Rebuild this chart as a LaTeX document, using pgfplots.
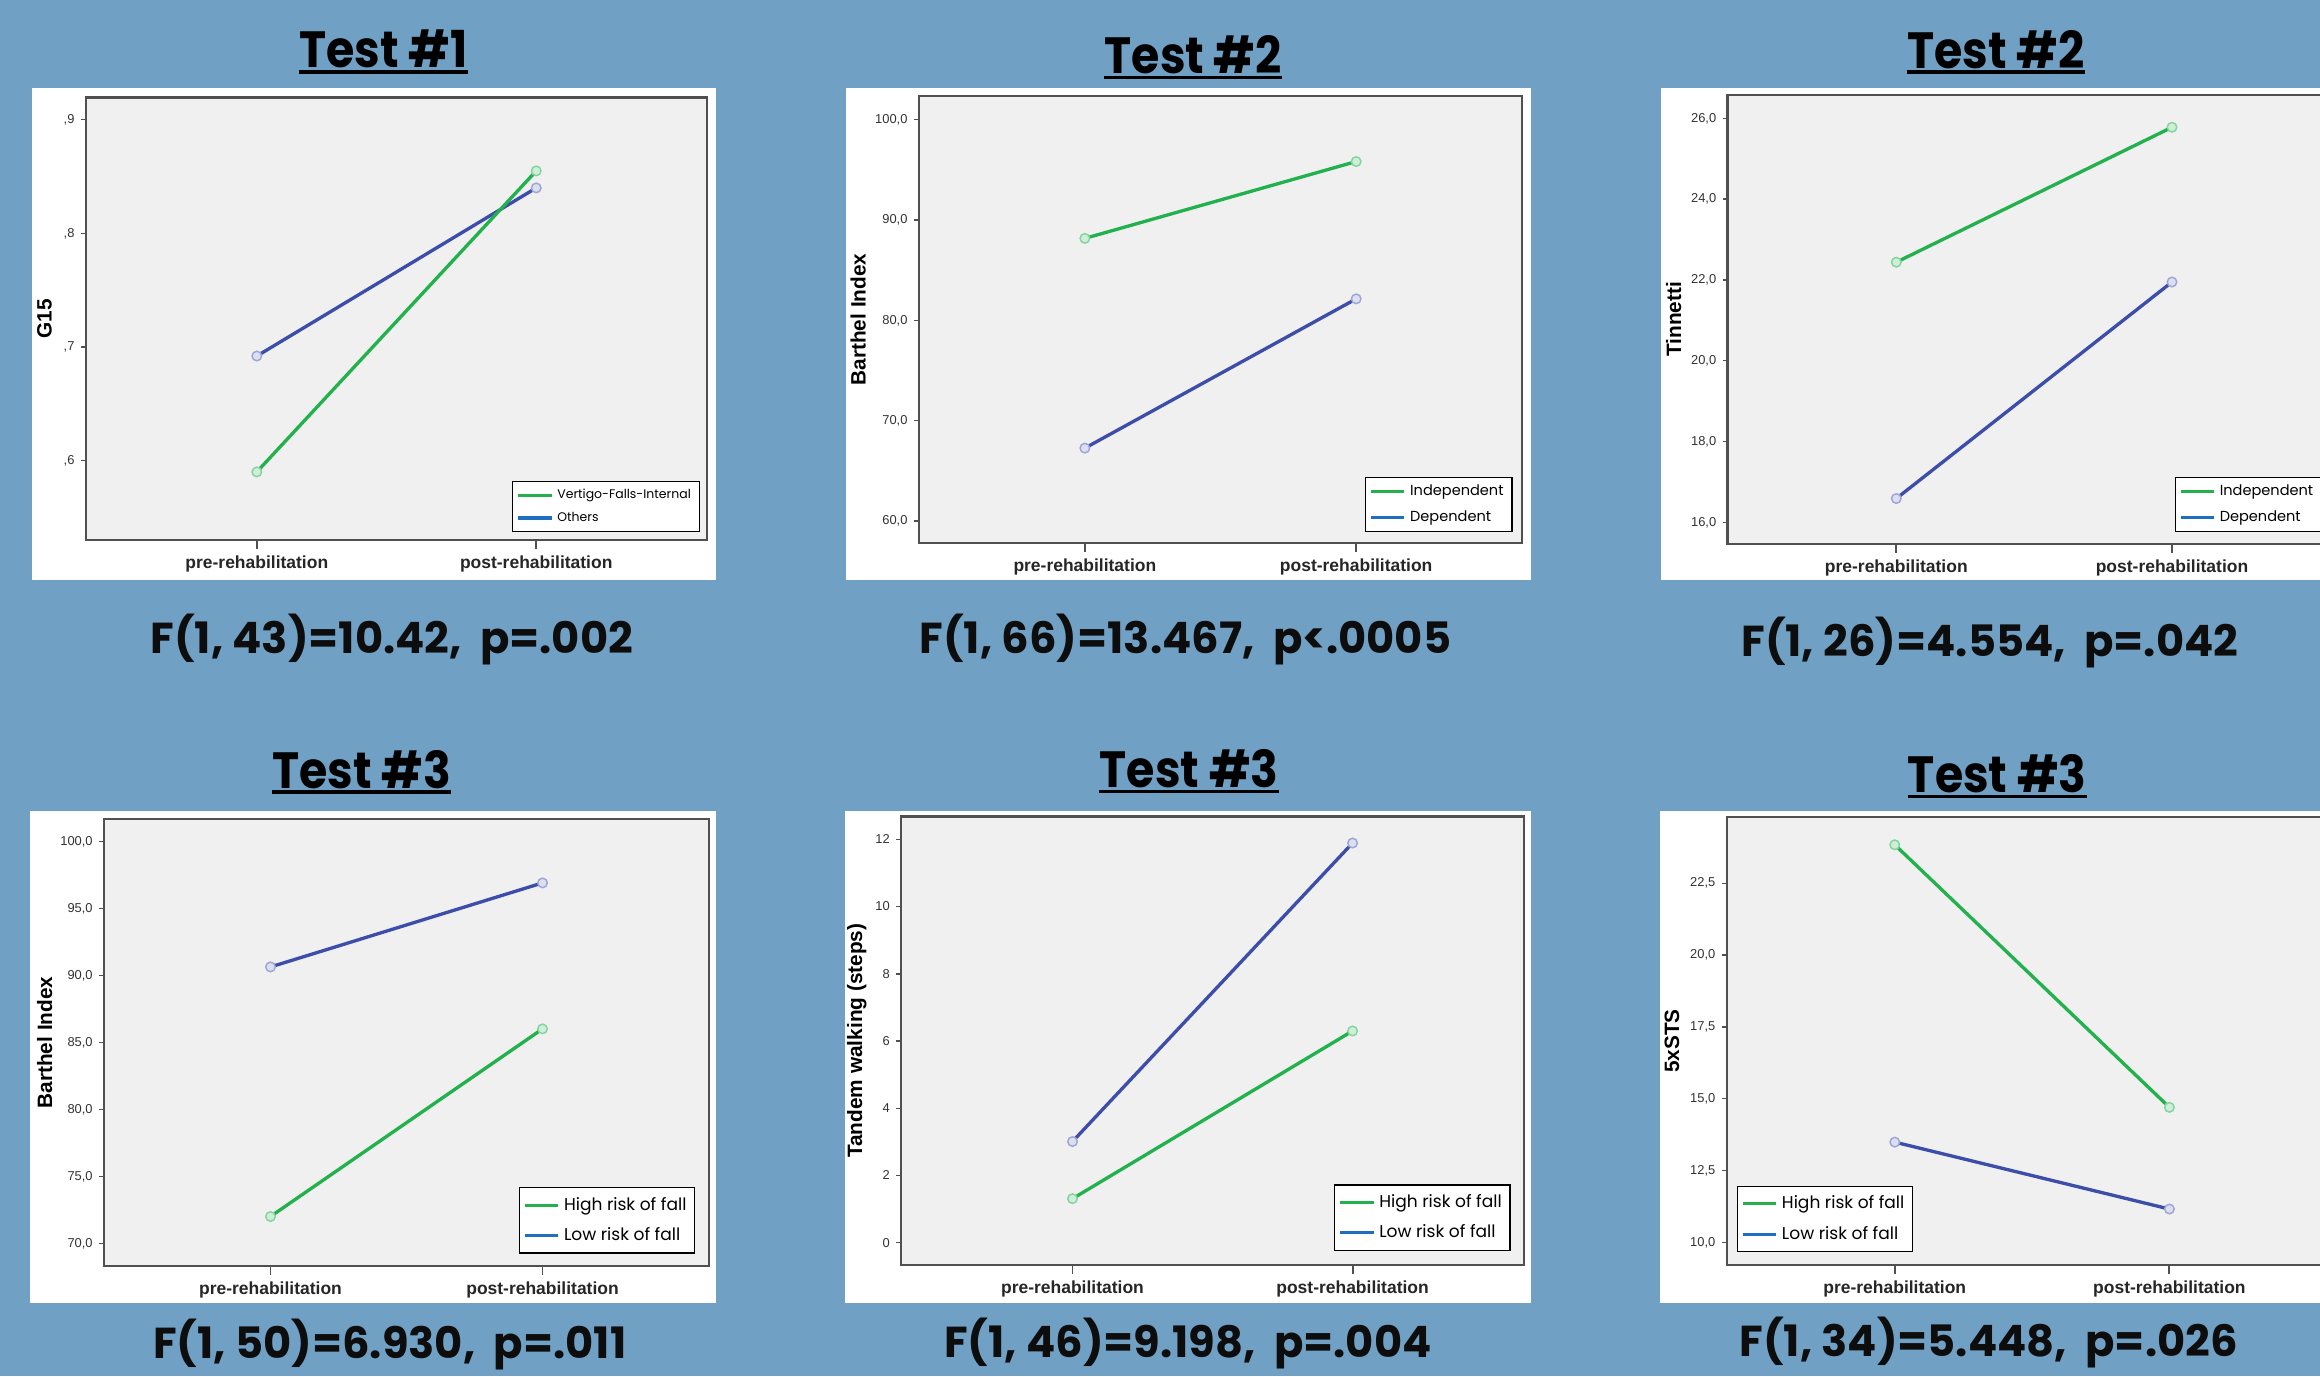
\documentclass[border=0pt]{standalone}
\usepackage{pgfplots}
\pgfplotsset{compat=1.18}
\usepackage{fontspec}
\setmainfont{Liberation Sans}
\newfontfamily\pop{Poppins}

\definecolor{bgblue}{RGB}{112,161,196}
\definecolor{plotbg}{RGB}{240,240,240}
\definecolor{framec}{RGB}{80,80,80}
\definecolor{gline}{RGB}{34,177,76}
\definecolor{bline}{RGB}{60,78,170}
\definecolor{legblue}{RGB}{31,111,192}
\definecolor{tickc}{RGB}{51,51,51}

\pgfplotsset{
  spss/.style={
    scale only axis, anchor=south west, clip=false,
    xmin=-0.612, xmax=1.612,
    xtick={0,1}, xticklabels={pre-rehabilitation,post-rehabilitation},
    axis background/.style={fill=plotbg},
    axis line style={draw=framec, line width=1.1pt},
    xtick pos=bottom, ytick pos=left, tick align=outside,
    xtick style={draw=framec, line width=0.9pt, /pgfplots/major tick length=1.5mm},
    ytick style={draw=framec, line width=0.7pt, /pgfplots/major tick length=0.8mm},
    yticklabel style={font=\fontsize{6.2}{7}\selectfont, text=tickc, inner sep=1pt},
    xticklabel style={font=\bfseries\fontsize{8.4}{9}\selectfont, text=black!85},
    ylabel style={font=\bfseries\fontsize{10}{11}\selectfont, anchor=center},
    legend style={draw=black, line width=0.6pt, fill=white, inner xsep=2pt, inner ysep=1.5pt},
    legend cell align=left,
    legend image code/.code={\draw[##1] (0mm,0mm) -- (5.6mm,0mm);},
  },
  grn/.style={draw=gline, line width=1.6pt, mark=*, mark size=2.3pt,
    mark options={draw=gline!55!white, fill=gline!22!white, line width=0.7pt}},
  blu/.style={draw=bline, line width=1.6pt, mark=*, mark size=2.3pt,
    mark options={draw=bline!50!white, fill=bline!18!white, line width=0.7pt}},
  legg/.style={draw=gline, line width=1.5pt},
  legb/.style={draw=legblue, line width=1.5pt},
  smallleg/.style={legend style={font=\pop\fontsize{6}{7.5}\selectfont, row sep=0.3mm}},
  midleg/.style={legend style={font=\pop\fontsize{7}{8.5}\selectfont, row sep=0.6mm}},
  bigleg/.style={legend style={font=\pop\fontsize{8.2}{10}\selectfont, row sep=1mm, inner ysep=2.5pt}},
}

\tikzset{
  ttl/.style={anchor=base, inner sep=0pt, xscale=0.9, font=\pop\bfseries\fontsize{24.5}{27}\selectfont},
  fst/.style={anchor=base, inner sep=0pt, text=black!95, font=\pop\bfseries\fontsize{20.8}{23}\selectfont},
}
\newcommand\ttl[3]{\node[ttl] (#1) at (#2) {#3};
  \draw[line width=0.6mm] ([yshift=-0.65mm]#1.base west) -- ([yshift=-0.65mm]#1.base east);}

\begin{document}
\begin{tikzpicture}
\useasboundingbox (0,0) rectangle (392mm,-232.5mm);
\clip (0,0) rectangle (392mm,-232.5mm);
\fill[bgblue] (0,0) rectangle (392mm,-232.5mm);

% white panels
\fill[white] (5.375mm,-14.9mm) rectangle (120.9mm,-98mm);
\fill[white] (142.9mm,-14.9mm) rectangle (258.7mm,-98mm);
\fill[white] (280.65mm,-14.9mm) rectangle (400mm,-98mm);
\fill[white] (5.05mm,-137mm) rectangle (121.05mm,-220.125mm);
\fill[white] (142.75mm,-137mm) rectangle (258.75mm,-220.125mm);
\fill[white] (280.5mm,-137mm) rectangle (400mm,-220.125mm);

% titles
\ttl{t1}{64.8mm,-11.475mm}{Test \#1}
\ttl{t2}{201.6mm,-12.45mm}{Test \#2}
\ttl{t3}{337.25mm,-11.55mm}{Test \#2}
\ttl{t4}{61.1mm,-133.2mm}{Test \#3}
\ttl{t5}{200.9mm,-133.05mm}{Test \#3}
\ttl{t6}{337.45mm,-133.9mm}{Test \#3}

% statistics
\node[fst] at (66.2mm,-110.5mm) {F(1, 43)=10.42,\ \ p=.002};
\node[fst] at (200.3mm,-110.5mm) {F(1, 66)=13.467,\ \ p<.0005};
\node[fst] at (336.2mm,-110.85mm) {F(1, 26)=4.554,\ \ p=.042};
\node[fst] at (65.85mm,-229.6mm) {F(1, 50)=6.930,\ \ p=.011};
\node[fst] at (200.7mm,-229.4mm) {F(1, 46)=9.198,\ \ p=.004};
\node[fst] at (336mm,-229.2mm) {F(1, 34)=5.448,\ \ p=.026};

% panel 1: G15
\begin{axis}[spss, smallleg, at={(14.5mm,-91.25mm)}, width=105mm, height=74.8mm,
  ymin=0.530, ymax=0.9197, ytick={0.6,0.7,0.8,0.9},
  yticklabels={{,6},{,7},{,8},{,9}},
  ylabel={G15}, ylabel style={at={(axis description cs:-0.0667,0.5)}},
  legend style={at={(0.988,0.018)}, anchor=south east}]
\addplot[blu, forget plot] coordinates {(0,0.692) (1,0.840)};
\addplot[grn, forget plot] coordinates {(0,0.590) (1,0.855)};
\addlegendimage{legg}\addlegendentry{Vertigo-Falls-Internal}
\addlegendimage{legb}\addlegendentry{Others}
\end{axis}

% panel 2: Barthel Index (independence)
\begin{axis}[spss, midleg, at={(155.25mm,-91.75mm)}, width=101.95mm, height=75.525mm,
  ymin=57.8, ymax=102.36, ytick={60,70,80,90,100},
  yticklabels={{60,0},{70,0},{80,0},{90,0},{100,0}},
  ylabel={Barthel Index}, ylabel style={at={(axis description cs:-0.1005,0.5)}},
  legend style={at={(0.984,0.0245)}, anchor=south east}]
\addplot[blu, forget plot] coordinates {(0,67.26) (1,82.14)};
\addplot[grn, forget plot] coordinates {(0,88.17) (1,95.83)};
\addlegendimage{legg}\addlegendentry{Independent}
\addlegendimage{legb}\addlegendentry{Dependent}
\end{axis}

% panel 3: Tinnetti
\begin{axis}[spss, midleg, at={(291.9mm,-91.875mm)}, width=103.6mm, height=75.8mm,
  ymin=15.47, ymax=26.575, ytick={16,18,20,22,24,26},
  yticklabels={{16,0},{18,0},{20,0},{22,0},{24,0},{26,0}},
  ylabel={Tinnetti}, ylabel style={at={(axis description cs:-0.088,0.5)}},
  legend style={at={(0.729,0.026)}, anchor=south west}]
\addplot[blu, forget plot] coordinates {(0,16.59) (1,21.95)};
\addplot[grn, forget plot] coordinates {(0,22.44) (1,25.78)};
\addlegendimage{legg}\addlegendentry{Independent}
\addlegendimage{legb}\addlegendentry{Dependent}
\end{axis}

% panel 4: Barthel Index (risk of fall)
\begin{axis}[spss, bigleg, at={(17.575mm,-213.9mm)}, width=102.225mm, height=75.525mm,
  ymin=68.33, ymax=101.68, ytick={70,75,80,85,90,95,100},
  yticklabels={{70,0},{75,0},{80,0},{85,0},{90,0},{95,0},{100,0}},
  ylabel={Barthel Index}, ylabel style={at={(axis description cs:-0.098,0.5)}},
  legend style={at={(0.9775,0.0275)}, anchor=south east}]
\addplot[blu, forget plot] coordinates {(0,90.64) (1,96.91)};
\addplot[grn, forget plot] coordinates {(0,72.02) (1,86.02)};
\addlegendimage{legg}\addlegendentry{High risk of fall}
\addlegendimage{legb}\addlegendentry{Low risk of fall}
\end{axis}

% panel 5: Tandem walking
\begin{axis}[spss, bigleg, at={(152.25mm,-213.7mm)}, width=105.25mm, height=75.75mm,
  ymin=-0.656, ymax=12.68, ytick={0,2,4,6,8,10,12},
  yticklabels={0,2,4,6,8,10,12},
  ylabel={Tandem walking (steps)}, ylabel style={at={(axis description cs:-0.071,0.5)}},
  legend style={at={(0.9786,0.031)}, anchor=south east}]
\addplot[blu, forget plot] coordinates {(0,3.01) (1,11.89)};
\addplot[grn, forget plot] coordinates {(0,1.31) (1,6.30)};
\addlegendimage{legg}\addlegendentry{High risk of fall}
\addlegendimage{legb}\addlegendentry{Low risk of fall}
\end{axis}

% panel 6: 5xSTS
\begin{axis}[spss, bigleg, at={(291.75mm,-213.7mm)}, width=103.2mm, height=75.625mm,
  ymin=9.22, ymax=24.80, ytick={10,12.5,15,17.5,20,22.5},
  yticklabels={{10,0},{12,5},{15,0},{17,5},{20,0},{22,5}},
  ylabel={5xSTS}, ylabel style={at={(axis description cs:-0.0896,0.5)}},
  legend style={at={(0.0165,0.028)}, anchor=south west}]
\addplot[blu, forget plot] coordinates {(0,13.49) (1,11.16)};
\addplot[grn, forget plot] coordinates {(0,23.84) (1,14.70)};
\addlegendimage{legg}\addlegendentry{High risk of fall}
\addlegendimage{legb}\addlegendentry{Low risk of fall}
\end{axis}
\end{tikzpicture}
\end{document}
